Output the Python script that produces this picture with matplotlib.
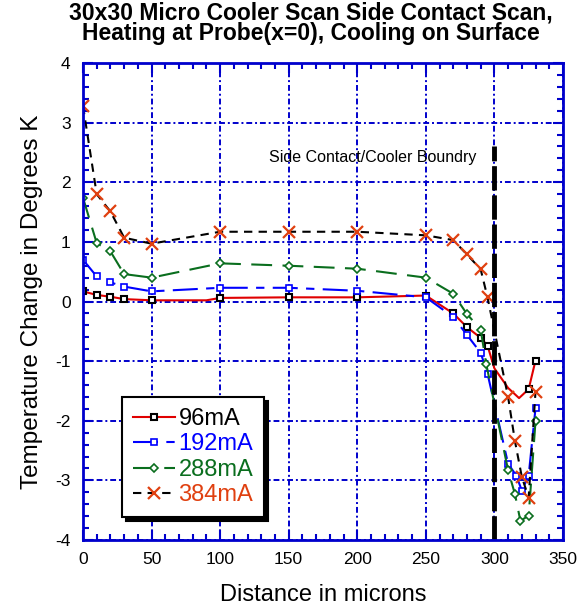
import matplotlib
matplotlib.use("Agg")
from matplotlib import pyplot as plt
from matplotlib.ticker import MultipleLocator

plt.rcParams['font.family'] = ['Liberation Sans', 'DejaVu Sans']
plt.rcParams['axes.unicode_minus'] = False

# distance (microns) / temperature change (K)
x96 = [0, 10, 20, 30, 50, 90, 100, 150, 200, 250, 270, 280, 290, 295, 300, 310, 318, 325, 330]
y96 = [0.17, 0.11, 0.08, 0.04, 0.02, 0.02, 0.06, 0.07, 0.07, 0.10, -0.20, -0.43, -0.61, -0.74, -1.12, -1.45, -1.62, -1.47, -0.99]
mark96 = [0, 1, 2, 3, 4, 6, 7, 8, 9, 10, 11, 12, 13, 17, 18]

x192 = [0, 10, 20, 30, 50, 100, 150, 200, 250, 270, 280, 290, 295, 310, 316, 320, 325, 330]
y192 = [0.70, 0.42, 0.32, 0.25, 0.17, 0.23, 0.23, 0.18, 0.07, -0.26, -0.56, -0.86, -1.21, -2.72, -2.92, -3.17, -2.92, -1.79]

x288 = [0, 10, 20, 30, 50, 100, 150, 200, 250, 270, 280, 290, 294, 310, 315, 319, 325, 330]
y288 = [1.74, 0.98, 0.84, 0.46, 0.40, 0.64, 0.60, 0.55, 0.40, 0.13, -0.21, -0.47, -1.04, -2.83, -3.23, -3.68, -3.59, -2.01]

x384 = [0, 10, 20, 30, 50, 100, 150, 200, 250, 270, 280, 290, 295, 310, 315, 320, 325, 330]
y384 = [3.28, 1.80, 1.51, 1.07, 0.97, 1.17, 1.17, 1.17, 1.11, 1.03, 0.79, 0.54, 0.07, -1.60, -2.34, -2.94, -3.29, -1.51]

boundary_x = 300
boundary_y = [-4, 2.6]

blue = '#0000cc'

fig = plt.figure(figsize=(5.87, 6.16), dpi=100)
ax = fig.add_axes([0.1414, 0.1234, 0.8176, 0.7743])

ax.plot(x96, y96, color='#e00000', lw=1.5, marker='s', markevery=mark96, ms=4.5,
        mfc='white', mec='black', mew=1.5, label='96mA')
ax.plot(x192, y192, color='#0000ff', lw=1.5, dashes=(12, 4, 4, 4), marker='s', ms=5,
        mfc='white', mec='#0000ff', mew=1.2, label='192mA')
ax.plot(x288, y288, color='#0a6e1e', lw=1.5, dashes=(10, 5), marker='D', ms=4.5,
        mfc='white', mec='#0a6e1e', mew=1.2, label='288mA')
ax.plot(x384, y384, color='black', lw=1.5, dashes=(4, 3), marker='x', ms=8.5,
        mec='#e04010', mew=1.6, label='384mA')

ax.plot([boundary_x, boundary_x], boundary_y, color='black', lw=3.5, dashes=(5, 1))
ax.text(136, 2.41, 'Side Contact/Cooler Boundry', fontsize=11.5, va='center', ha='left')

ax.set_xlim(0, 350)
ax.set_ylim(-4, 4)
ax.xaxis.set_major_locator(MultipleLocator(50))
ax.xaxis.set_minor_locator(MultipleLocator(10))
ax.yaxis.set_major_locator(MultipleLocator(1))
ax.yaxis.set_minor_locator(MultipleLocator(0.2))
ax.tick_params(which='both', direction='in', top=True, right=True, color=blue, width=1.5,
               labelsize=12.5, pad=9)
ax.tick_params(which='major', length=7)
ax.tick_params(which='minor', length=4)
for s in ax.spines.values():
    s.set_color(blue)
    s.set_linewidth(2)
ax.grid(True, which='major', color=blue, lw=1.4, dashes=(3, 1.5, 1, 1.5))
ax.set_axisbelow(True)

ax.set_xlabel('Distance in microns', fontsize=17, labelpad=12)
ax.set_ylabel('Temperature Change in Degrees K', fontsize=17.5, labelpad=9)
fig.text(0.53, 0.998, '30x30 Micro Cooler Scan Side Contact Scan,\nHeating at Probe(x=0), Cooling on Surface',
         fontsize=16.5, fontweight='bold', ha='center', va='top', linespacing=0.88)

leg = ax.legend(loc='lower left', bbox_to_anchor=(0.081, 0.048), borderaxespad=0, fontsize=17,
                frameon=True, fancybox=False, edgecolor='black', handlelength=1.8,
                handletextpad=0.15, labelspacing=0.15, borderpad=0.45,
                labelcolor=['black', '#0000ff', '#0a6e1e', '#e04010'],
                shadow={'color': 'black', 'alpha': 1, 'ox': 3, 'oy': -3})
leg.get_frame().set_linewidth(1.5)
leg.get_frame().set_alpha(1)

fig.savefig('out.png', dpi=100)
